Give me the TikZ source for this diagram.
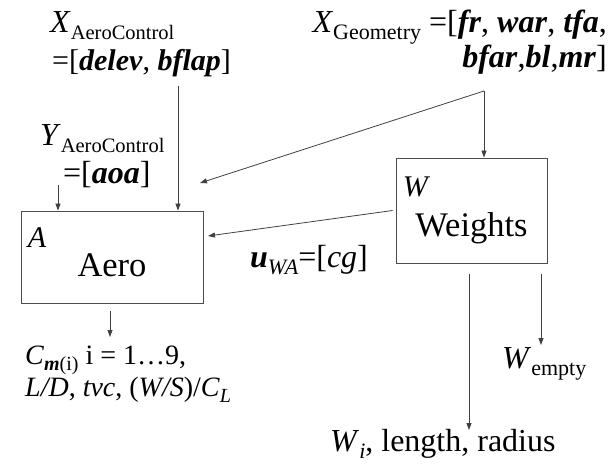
\documentclass[tikz,border=0pt]{standalone}
\usepackage{fontspec}
\setmainfont{Liberation Serif}
\usetikzlibrary{arrows.meta,positioning,calc}

% lowered index in a smaller size
\newcommand{\sbs}[2][22]{\raisebox{-0.22em}{\fontsize{#1}{#1}\selectfont #2}}
\newcommand{\bi}[1]{\textbf{\textit{#1}}}

\begin{document}
\begin{tikzpicture}[x=1pt, y=-1pt,
    box/.style={rectangle, draw=black!70, line width=0.9pt, inner sep=0pt, font=\fontsize{34.5}{38}\selectfont, text depth=0pt},
    tag/.style={font=\fontsize{30}{34}\selectfont\itshape, inner sep=0pt, anchor=base west},
    lbl/.style={font=\fontsize{32}{38}\selectfont, inner sep=0pt, align=left, anchor=base west},
    small/.style={font=\fontsize{28}{32}\selectfont, inner sep=0pt, align=left, anchor=base west},
    arrow/.style={-{Triangle[length=7pt, width=5pt]}, draw=black!75, line width=0.8pt}
]
\useasboundingbox (0,0) rectangle (608,464);

\node[box, minimum width=182pt, minimum height=92pt, text height=38pt] (aero) at (112,257) {Aero};
\node[box, minimum width=151pt, minimum height=105pt, text height=51pt] (weights) at (471.5,210.5) {Weights};
\node[tag] (atag) at ($(aero.north west)+(7,37)$) {A};
\node[tag] (wtag) at ($(weights.north west)+(7,39)$) {W};

% multi-line texts: anchor is on the last line
\node[lbl] (xaero) at (50,70) {\textit{X}\sbs[20.5]{AeroControl}\\\hspace{2pt}{\fontsize{30}{32}\selectfont=[\bi{delev}, \bi{bflap}]}};
\node[lbl] (yaero) at (40,183) {\textit{Y}\sbs[20.5]{AeroControl}\\\hspace{23pt}=[\bi{aoa}]};
\node[lbl, align=right, anchor=base east, font=\fontsize{32}{35}\selectfont] (xgeom) at (607,67) {\textit{X}\sbs{Geometry} =[\bi{fr}, \bi{war}, \bi{tfa},\\ \bi{bfar},\bi{bl},\bi{mr}]\hspace{2pt}};
\node[lbl] (uwa) at (250,267) {\bi{u}\sbs{\textit{WA}}=[\textit{cg}]};
\node[small] (aeroout) at (25,396) {\textit{C}\sbs[20]{\bi{m}(i)} i = 1\ldots9,\\\textit{L/D}, \textit{tvc}, (\textit{W/S})/\textit{C}\sbs[20]{\textit{L}}};
\node[lbl] (wempty) at (502,368) {\textit{W}\sbs{empty}};
\node[lbl] (wout) at (330,451) {\textit{W}\sbs{\textit{i}}, length, radius};

\coordinate (xasrc) at (178,86);
\coordinate (yasrc) at (58,185);
\coordinate (gsplit) at (484,91);
\coordinate (gin) at (200,183);
\coordinate (uin) at (208,236);
\coordinate (aerotip) at (110,337);
\coordinate (wouttip) at (469,430);
\coordinate (wemptytip) at (541,345);

\draw[arrow] (xasrc) -- (xasrc |- aero.north);
\draw[arrow] (yasrc) -- (yasrc |- aero.north);
\draw[arrow] (gsplit) -- (gsplit |- weights.north);
\draw[arrow] (gsplit) -- (gin);
\draw[arrow] ([xshift=-3pt]weights.west) -- (uin);
\draw[arrow] (aerotip |- aero.south) ++(0,8) -- (aerotip);
\draw[arrow] (wouttip |- weights.south) ++(0,11) -- (wouttip);
\draw[arrow] (wemptytip |- weights.south) ++(0,11) -- (wemptytip);
\end{tikzpicture}
\end{document}
